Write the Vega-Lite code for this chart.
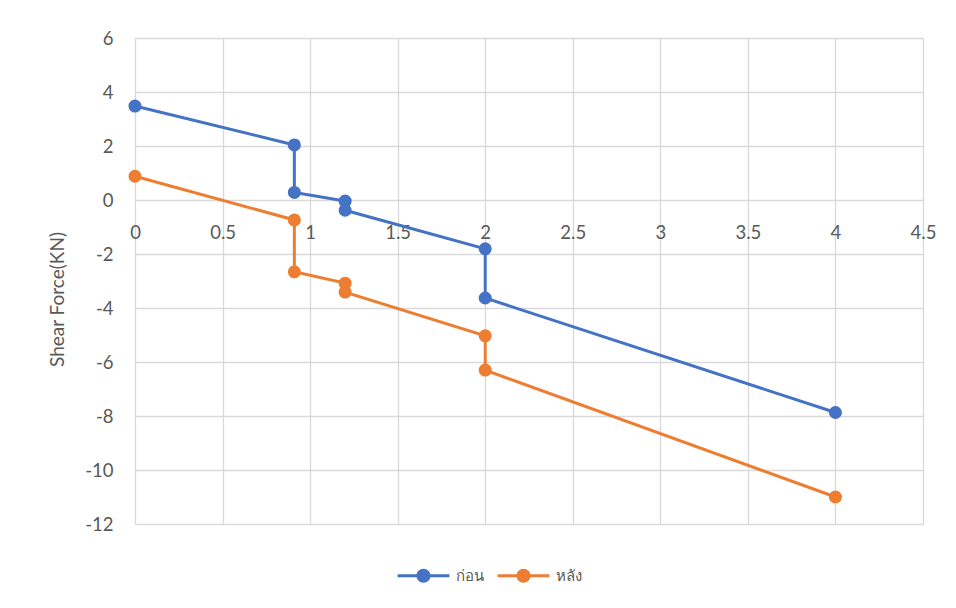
{
  "$schema": "https://vega.github.io/schema/vega-lite/v6.json",
  "width": 788,
  "height": 486,
  "autosize": {"type": "none"},
  "padding": {"left": 135, "top": 38, "right": 33, "bottom": 84},
  "background": "white",
  "config": {
    "font": "Lato",
    "view": {"stroke": null},
    "axis": {"gridColor": "#d9d9d9", "gridWidth": 1.3, "domain": false, "ticks": false, "labelColor": "#595959", "labelFontSize": 18.5, "labelFont": "Lato"}
  },
  "data": {
    "values": [
      {"s": "ก่อน", "i": 1, "x": 0, "y": 3.48},
      {"s": "ก่อน", "i": 2, "x": 0.91, "y": 2.04},
      {"s": "ก่อน", "i": 3, "x": 0.91, "y": 0.28},
      {"s": "ก่อน", "i": 4, "x": 1.2, "y": -0.04},
      {"s": "ก่อน", "i": 5, "x": 1.2, "y": -0.38},
      {"s": "ก่อน", "i": 6, "x": 2.0, "y": -1.81},
      {"s": "ก่อน", "i": 7, "x": 2.0, "y": -3.63},
      {"s": "ก่อน", "i": 8, "x": 4.0, "y": -7.87},
      {"s": "หลัง", "i": 1, "x": 0, "y": 0.88},
      {"s": "หลัง", "i": 2, "x": 0.91, "y": -0.74},
      {"s": "หลัง", "i": 3, "x": 0.91, "y": -2.66},
      {"s": "หลัง", "i": 4, "x": 1.2, "y": -3.08},
      {"s": "หลัง", "i": 5, "x": 1.2, "y": -3.41},
      {"s": "หลัง", "i": 6, "x": 2.0, "y": -5.03},
      {"s": "หลัง", "i": 7, "x": 2.0, "y": -6.3},
      {"s": "หลัง", "i": 8, "x": 4.0, "y": -11.0}
    ]
  },
  "mark": {"type": "line", "strokeWidth": 3, "point": {"filled": true, "size": 170, "opacity": 1}},
  "encoding": {
    "x": {
      "field": "x",
      "type": "quantitative",
      "scale": {"domain": [0, 4.5], "nice": false, "zero": false},
      "axis": {
        "values": [0, 0.5, 1, 1.5, 2, 2.5, 3, 3.5, 4, 4.5],
        "labelExpr": "'' + datum.value",
        "offset": -324,
        "title": null,
        "labelPadding": 23,
        "labelFlush": false,
        "labelOverlap": false
      }
    },
    "y": {
      "field": "y",
      "type": "quantitative",
      "scale": {"domain": [-12, 6], "nice": false},
      "axis": {
        "values": [-12, -10, -8, -6, -4, -2, 0, 2, 4, 6],
        "labelExpr": "'' + datum.value",
        "title": "Shear Force(KN)",
        "titleFontSize": 19,
        "titleFontWeight": "normal",
        "titleColor": "#595959",
        "titleFont": "Lato",
        "titlePadding": 17,
        "titleY": 261,
        "labelPadding": 22,
        "labelFlush": false,
        "labelOverlap": false
      }
    },
    "color": {
      "field": "s",
      "type": "nominal",
      "scale": {"domain": ["ก่อน", "หลัง"], "range": ["#4472C4", "#ED7D31"]},
      "legend": {
        "title": null,
        "orient": "none",
        "direction": "horizontal",
        "legendX": 281,
        "legendY": 530,
        "padding": 0,
        "symbolType": "M-3.7,-0.2L3.7,-0.2L3.7,0.2L-3.7,0.2Z M1,0A1,1 0 1,1 -1,0A1,1 0 1,1 1,0Z",
        "symbolSize": 196,
        "symbolStrokeWidth": 0,
        "labelOffset": 25,
        "columnPadding": 13,
        "labelFontSize": 15,
        "labelColor": "#595959",
        "encode": {"symbols": {"update": {"fill": {"scale": "color", "field": "value"}, "opacity": {"value": 1}}}}
      }
    },
    "order": {"field": "i", "type": "quantitative"}
  }
}
